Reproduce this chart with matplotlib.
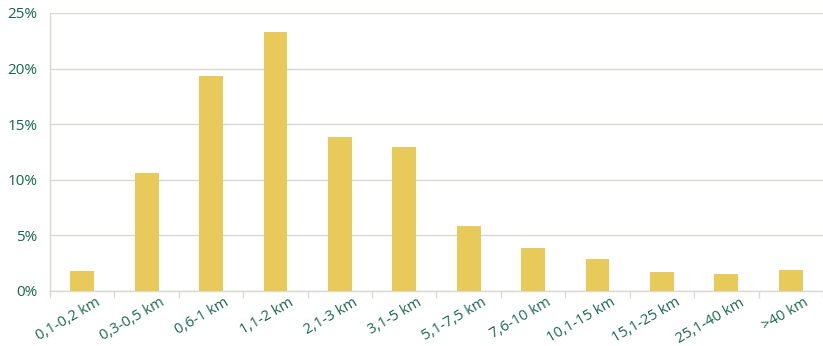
import matplotlib
matplotlib.use("Agg")
import matplotlib.pyplot as plt
import numpy as np
from matplotlib.ticker import FixedLocator, NullFormatter
from matplotlib.transforms import ScaledTranslation

categories = ["0,1-0,2 km", "0,3-0,5 km", "0,6-1 km", "1,1-2 km", "2,1-3 km", "3,1-5 km",
              "5,1-7,5 km", "7,6-10 km", "10,1-15 km", "15,1-25 km", "25,1-40 km", ">40 km"]
values = [1.8, 10.6, 19.3, 23.3, 13.85, 12.95, 5.85, 3.87, 2.88, 1.7, 1.53, 1.89]
yticks = [0, 5, 10, 15, 20, 25]

plt.rcParams['font.family'] = ['Open Sans', 'DejaVu Sans']
green = "#17684a"
grid = "#d9d9d4"

fig = plt.figure(figsize=(8.23, 3.46), dpi=100)
ax = fig.add_axes([50/823, 1 - 291/346, 773/823, 278/346])

x = np.arange(len(categories))
ax.bar(x, values, width=0.37, color="#e8ca5a", zorder=3)

ax.set_xlim(-0.5, len(categories) - 0.5)
ax.set_ylim(0, 25)
ax.set_yticks(yticks)
ax.set_yticklabels([f"{t}%" for t in yticks], color=green, fontsize=11)
ax.yaxis.grid(True, color=grid, linewidth=1, zorder=0)
ax.tick_params(axis='y', length=0, pad=9)

ax.set_xticks(x)
ax.set_xticklabels(categories, rotation=30, ha='right', rotation_mode='anchor',
                   color=green, fontsize=10.6)
ax.tick_params(axis='x', which='major', length=0, pad=3)
offset = ScaledTranslation(13/100, 0, fig.dpi_scale_trans)
for lbl in ax.get_xticklabels():
    lbl.set_transform(lbl.get_transform() + offset)
ax.xaxis.set_minor_locator(FixedLocator(np.arange(-0.5, len(categories), 1)))
ax.xaxis.set_minor_formatter(NullFormatter())
ax.tick_params(axis='x', which='minor', length=5, color=grid, width=1)

for s in ['top', 'right']:
    ax.spines[s].set_visible(False)
ax.spines['left'].set_color(grid)
ax.spines['bottom'].set_color(grid)
ax.spines['left'].set_linewidth(1)
ax.spines['bottom'].set_linewidth(1)

fig.savefig("out.png", dpi=100)
